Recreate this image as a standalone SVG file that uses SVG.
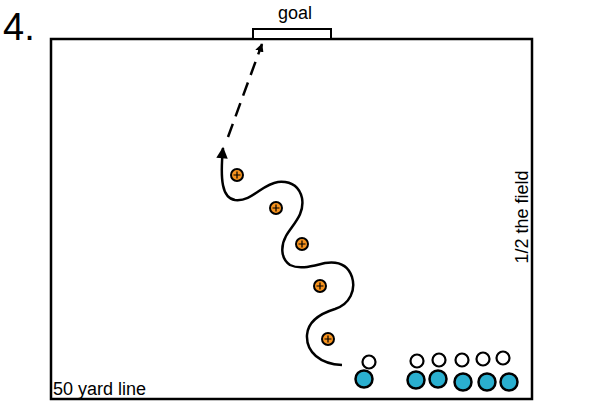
<svg xmlns="http://www.w3.org/2000/svg" width="611" height="402" viewBox="0 0 611 402">
<style>
text{font-family:"Liberation Sans",Arial,sans-serif;fill:#000}
.field{fill:#fff;stroke:#000;stroke-width:2.5}
.ball{fill:#f7931e;stroke:#000;stroke-width:2}
.cross{stroke:#000;stroke-width:1.2}
.att{fill:#fff;stroke:#000;stroke-width:2.2}
.def{fill:#2aafcf;stroke:#000;stroke-width:2.5}
.run{fill:none;stroke:#000;stroke-width:2.5}
</style>
<defs>
<marker id="ah" viewBox="0 0 10 10" refX="9" refY="5" markerWidth="6" markerHeight="4.6" orient="auto" markerUnits="strokeWidth"><path d="M0,0L10,5L0,10Z" fill="#000"/></marker>
<marker id="ahs" viewBox="0 0 10 10" refX="9" refY="5" markerWidth="3.4" markerHeight="3.4" orient="auto" markerUnits="strokeWidth"><path d="M0,0L10,5L0,10Z" fill="#000"/></marker>
<g id="b"><circle r="6" class="ball"/><path d="M-3.5,0H3.5M0,-3.5V3.5" class="cross"/></g>
</defs>
<rect width="611" height="402" fill="#fff"/>
<text x="3" y="40" font-size="38">4.</text>
<g id="field"><rect x="51" y="39" width="481" height="360" class="field"/></g>
<g id="goal"><rect x="253" y="29" width="78" height="10" fill="#fff" stroke="#000" stroke-width="2"/><text x="295" y="19" font-size="18" text-anchor="middle">goal</text></g>
<text x="53" y="395" font-size="18">50 yard line</text>
<text transform="translate(528,217) rotate(-90)" font-size="18" text-anchor="middle">1/2 the field</text>
<g id="connectors">
<path class="run" d="M342,365 C320,364 306,352 307,335 C308,320 322,313 335,309 C350,304 356,290 352,277 C348,265 338,261 325,263 C312,266 300,270 290,265 C280,258 281,245 286,236 C292,225 305,215 302,198 C299,186 290,181 278,182 C262,184 252,202 235,200 C222,198 220,180 223,148" marker-end="url(#ah)"/>
<line class="run" x1="228" y1="137" x2="262" y2="44" stroke-dasharray="14,8" marker-end="url(#ahs)"/>
</g>
<g id="balls">
<use href="#b" x="237" y="175"/>
<use href="#b" x="276" y="208"/>
<use href="#b" x="302" y="244"/>
<use href="#b" x="320" y="286"/>
<use href="#b" x="328" y="339"/>
</g>
<g id="attackers">
<circle class="att" cx="369" cy="362" r="6.5"/>
<circle class="att" cx="417" cy="361" r="6.5"/>
<circle class="att" cx="439" cy="360" r="6.5"/>
<circle class="att" cx="462" cy="360" r="6.5"/>
<circle class="att" cx="483" cy="359" r="6.5"/>
<circle class="att" cx="503" cy="358" r="6.5"/>
</g>
<g id="defenders">
<circle class="def" cx="364" cy="379" r="8.5"/>
<circle class="def" cx="416" cy="380" r="8.5"/>
<circle class="def" cx="438" cy="379" r="8.5"/>
<circle class="def" cx="463" cy="382" r="8.5"/>
<circle class="def" cx="487" cy="382" r="8.5"/>
<circle class="def" cx="509" cy="382" r="8.5"/>
</g>
</svg>
